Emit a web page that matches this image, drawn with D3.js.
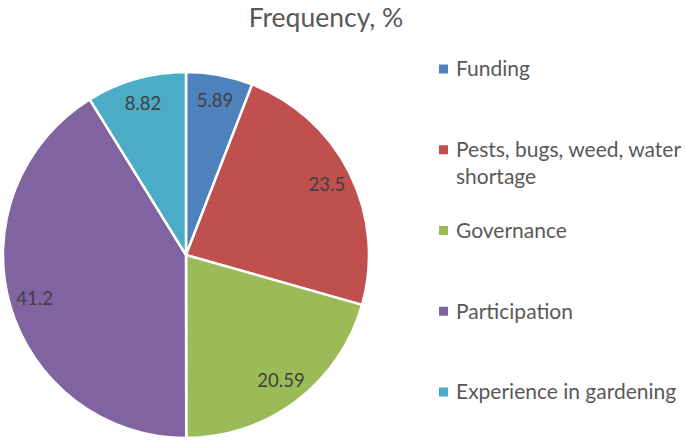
<!DOCTYPE html>
<html><head><meta charset="utf-8">
<script src="https://cdn.jsdelivr.net/npm/d3@7"></script>
<style>body{margin:0;background:#fff}</style>
</head><body>
<svg id="c" width="685" height="441"></svg>
<script>
const categories = ["Funding", "Pests, bugs, weed, water shortage", "Governance", "Participation", "Experience in gardening"];
const legendLines = [["Funding"], ["Pests, bugs, weed, water", "shortage"], ["Governance"], ["Participation"], ["Experience in gardening"]];
const values = [5.89, 23.5, 20.59, 41.2, 8.82];
const labels = ["5.89", "23.5", "20.59", "41.2", "8.82"];
const colors = ["#4F81BD", "#C0504D", "#9BBB59", "#8064A2", "#4BACC6"];
const title = "Frequency, %";

const svg = d3.select("#c");
const font = "Lato, 'Open Sans', sans-serif";
const cx = 186, cy = 255, R = 183;

svg.append("text").attr("x", 326).attr("y", 27).attr("text-anchor", "middle")
  .attr("font-family", font).attr("font-size", 26.5).attr("fill", "#595959").text(title);

const pie = d3.pie().sort(null).value(d => d)(values);
const arc = d3.arc().innerRadius(0).outerRadius(R);
const labelArc = d3.arc().innerRadius(R * 0.86).outerRadius(R * 0.86);
const g = svg.append("g").attr("transform", `translate(${cx},${cy})`);
g.selectAll("path").data(pie).join("path")
  .attr("d", arc).attr("fill", (d, i) => colors[i])
  .attr("stroke", "#fff").attr("stroke-width", 2.5).attr("stroke-linejoin", "round");
g.selectAll("text").data(pie).join("text")
  .attr("transform", d => `translate(${labelArc.centroid(d)})`)
  .attr("text-anchor", "middle").attr("dy", "0.35em")
  .attr("font-family", font).attr("font-size", 18.5).attr("fill", "#404040")
  .text((d, i) => labels[i]);

const ly = d3.scalePoint().domain(categories).range([69, 392]);
const lg = svg.append("g");
categories.forEach((c, i) => {
  const y = ly(c);
  lg.append("rect").attr("x", 439).attr("y", y - 4.5).attr("width", 9).attr("height", 9).attr("fill", colors[i]);
  const t = lg.append("text").attr("x", 456).attr("y", y)
    .attr("font-family", font).attr("font-size", 21).attr("fill", "#595959");
  legendLines[i].forEach((ln, j) => t.append("tspan").attr("x", 456).attr("dy", j === 0 ? "0.35em" : 27).text(ln));
});
</script>
</body></html>
